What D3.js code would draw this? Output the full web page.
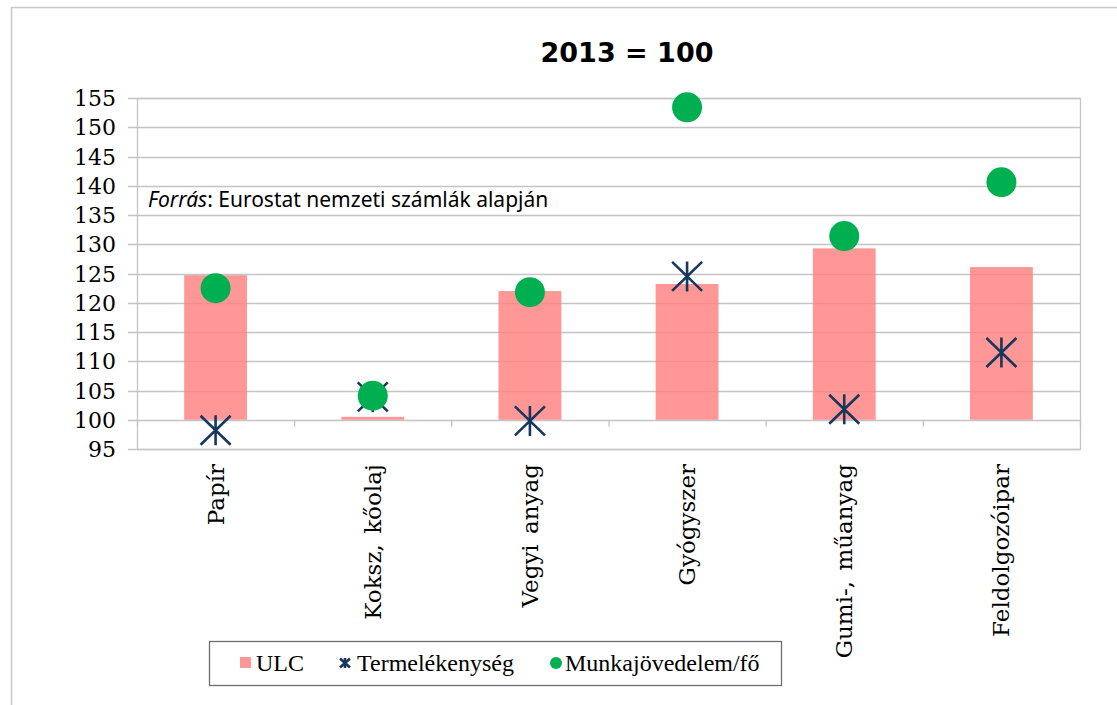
<!DOCTYPE html>
<html>
<head>
<meta charset="utf-8">
<script src="https://cdn.jsdelivr.net/npm/d3@7"></script>
<style>
  body { margin: 0; background: #fff; }
  svg { display: block; }
</style>
</head>
<body>
<svg width="1117" height="705"></svg>
<script>
var categories = ["Papír", "Koksz, kőolaj", "Vegyi anyag", "Gyógyszer", "Gumi-, műanyag", "Feldolgozóipar"];
var ulc = [124.7, 100.5, 122.0, 123.2, 129.3, 126.1];
var termelekenyseg = [98.2, 103.9, 99.8, 124.5, 101.8, 111.5];
var munkajovedelem = [122.5, 104.1, 121.8, 153.4, 131.4, 140.6];
var yTicks = [95, 100, 105, 110, 115, 120, 125, 130, 135, 140, 145, 150, 155];

var BAR_COLOR = "#ff8585", STAR_COLOR = "#17375e", DOT_COLOR = "#00b050";

var svg = d3.select("svg"),
    width = +svg.attr("width"),
    height = +svg.attr("height");

var plot = {left: 137, right: 1080, top: 98, bottom: 449};

var x = d3.scaleBand().domain(categories).range([plot.left, plot.right]);
var y = d3.scaleLinear().domain([95, 155]).range([plot.bottom, plot.top]);

svg.append("rect").attr("width", width).attr("height", height).attr("fill", "#fff");

// outer frame (only top and left visible)
svg.append("path")
  .attr("d", "M11.5," + height + "V7.5H" + width)
  .attr("fill", "none").attr("stroke", "#c8c8c8").attr("stroke-width", 1.5);

// title
svg.append("text")
  .attr("x", 627).attr("y", 62)
  .attr("text-anchor", "middle")
  .style("font-family", "DejaVu Sans").style("font-weight", "bold").style("font-size", "27px")
  .text("2013 = 100");

// gridlines
svg.append("g").selectAll("line.grid")
  .data(yTicks)
  .enter().append("line")
  .attr("x1", plot.left - 9).attr("x2", plot.right)
  .attr("y1", function(d){ return Math.round(y(d)) + 0.5; })
  .attr("y2", function(d){ return Math.round(y(d)) + 0.5; })
  .attr("stroke", "#c4c4c4").attr("stroke-width", 1.3);

// plot border
svg.append("rect")
  .attr("x", plot.left + 0.5).attr("y", plot.top + 0.5)
  .attr("width", plot.right - plot.left).attr("height", plot.bottom - plot.top)
  .attr("fill", "none").attr("stroke", "#c4c4c4").attr("stroke-width", 1.3);

// y labels
svg.append("g").selectAll("text")
  .data(yTicks)
  .enter().append("text")
  .attr("x", 116).attr("y", function(d){ return y(d) + 8; })
  .attr("text-anchor", "end")
  .style("font-family", "DejaVu Serif").style("font-size", "22px")
  .text(function(d){ return d; });

// category ticks at band edges, below the 100 line
var edges = categories.map(function(c){ return x(c); }).concat([plot.right]);
svg.append("g").selectAll("line")
  .data(edges)
  .enter().append("line")
  .attr("x1", function(d){ return d + 0.5; }).attr("x2", function(d){ return d + 0.5; })
  .attr("y1", y(100)).attr("y2", y(100) + 7)
  .attr("stroke", "#c4c4c4").attr("stroke-width", 1.3);

// note
var note = svg.append("text")
  .attr("x", 148).attr("y", 207)
  .style("font-family", "Noto Sans").style("font-size", "21px");
note.append("tspan").style("font-style", "italic").text("Forrás");
note.append("tspan").text(": Eurostat nemzeti számlák alapján");

// bars from 100
var barW = x.bandwidth() * 0.4;
svg.append("g").selectAll("rect")
  .data(ulc)
  .enter().append("rect")
  .attr("x", function(d, i){ return x(categories[i]) + (x.bandwidth() - barW) / 2; })
  .attr("y", function(d){ return y(Math.max(d, 100)); })
  .attr("width", barW)
  .attr("height", function(d){ return Math.abs(y(d) - y(100)); })
  .attr("fill", BAR_COLOR).attr("fill-opacity", 0.85);

function starPath(s, h) {
  return "M0," + (-s) + "V" + s +
    "M" + (-s) + "," + (-h) + "L" + s + "," + h +
    "M" + (-s) + "," + h + "L" + s + "," + (-h);
}

// productivity stars
svg.append("g").selectAll("path")
  .data(termelekenyseg)
  .enter().append("path")
  .attr("transform", function(d, i){ return "translate(" + (x(categories[i]) + x.bandwidth() / 2) + "," + y(d) + ")"; })
  .attr("d", starPath(15, 14.5))
  .attr("fill", "none").attr("stroke", STAR_COLOR).attr("stroke-width", 2.6);

// compensation dots
svg.append("g").selectAll("circle")
  .data(munkajovedelem)
  .enter().append("circle")
  .attr("cx", function(d, i){ return x(categories[i]) + x.bandwidth() / 2; })
  .attr("cy", function(d){ return y(d); })
  .attr("r", 15)
  .attr("fill", DOT_COLOR);

// category labels
svg.append("g").selectAll("text")
  .data(categories)
  .enter().append("text")
  .attr("transform", function(d){ return "translate(" + (x(d) + x.bandwidth() / 2 + 8) + ",464) rotate(-90)"; })
  .attr("text-anchor", "end")
  .style("font-family", "DejaVu Serif").style("font-size", "23px")
  .style("word-spacing", "3px")
  .text(function(d){ return d; });

// legend
var legend = svg.append("g");
legend.append("rect")
  .attr("x", 209.5).attr("y", 641.5).attr("width", 572).attr("height", 44)
  .attr("fill", "#fff").attr("stroke", "#6e6e6e").attr("stroke-width", 1.3);

var legendFont = function(sel){
  sel.style("font-family", "Liberation Serif").style("font-size", "24px");
};
legend.append("rect").attr("x", 240).attr("y", 657).attr("width", 11).attr("height", 11)
  .attr("fill", BAR_COLOR).attr("fill-opacity", 0.85);
legend.append("text").attr("x", 256).attr("y", 671).call(legendFont).text("ULC");

legend.append("path")
  .attr("transform", "translate(345,663)")
  .attr("d", starPath(5, 4.5))
  .attr("fill", "none").attr("stroke", STAR_COLOR).attr("stroke-width", 2.6);
legend.append("text").attr("x", 357).attr("y", 671).call(legendFont).text("Termelékenység");

legend.append("circle").attr("cx", 556).attr("cy", 663).attr("r", 6).attr("fill", DOT_COLOR);
legend.append("text").attr("x", 565).attr("y", 671).call(legendFont).text("Munkajövedelem/fő");
</script>
</body>
</html>
